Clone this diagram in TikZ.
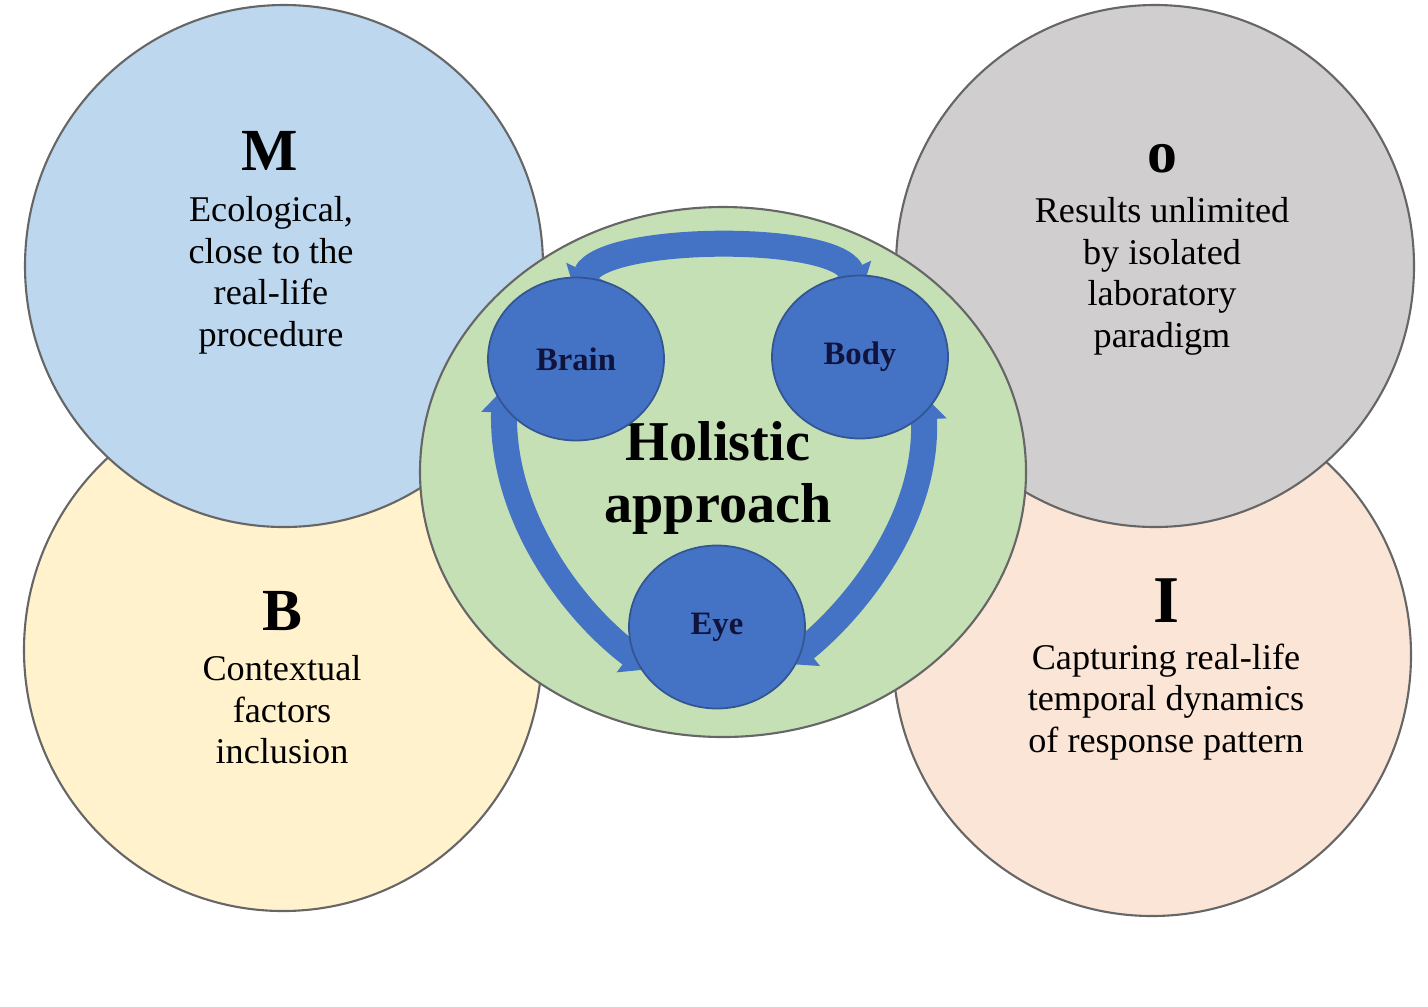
\documentclass[tikz,border=0pt]{standalone}
\usepackage{fontspec}
\setmainfont{Liberation Serif}
\usetikzlibrary{arrows.meta,shapes.geometric}
\pgfdeclarelayer{bg}
\pgfdeclarelayer{arr}
\pgfsetlayers{bg,arr,main}
\definecolor{mblue}{HTML}{BDD7EE}
\definecolor{byellow}{HTML}{FFF2CC}
\definecolor{ogray}{HTML}{D0CECE}
\definecolor{ipink}{HTML}{FBE5D6}
\definecolor{hgreen}{HTML}{C5E0B4}
\definecolor{dblue}{HTML}{4472C4}
\definecolor{navy}{HTML}{10143C}
\begin{document}
\begin{tikzpicture}[x=0.1mm, y=-0.1mm] % координаты в пикселях
\tikzstyle{mybig} = [ellipse, draw=black!60, line width=0.6pt, inner sep=0pt, minimum width=5.18cm, minimum height=5.22cm] % big circle style
\tikzstyle{mysmall} = [ellipse, draw=dblue!75!black, fill=dblue, line width=0.5pt, inner sep=0pt, minimum width=1.76cm, minimum height=1.63cm, text=navy, font=\bfseries\fontsize{9.3}{11}\selectfont] % Brain, Body, Eye
\tikzstyle{myletter} = [anchor=base, inner sep=0pt, font=\bfseries\fontsize{17}{20}\selectfont] % буква
\tikzstyle{mytext} = [anchor=north, inner sep=0pt, align=center, font=\fontsize{10.3}{11.8}\selectfont] % текст в круге
\tikzstyle{myarrow} = [draw=dblue, line width=0.26cm, {Triangle[length=0.25cm,width=0.44cm]}-{Triangle[length=0.25cm,width=0.44cm]}, shorten <=-0.2cm, shorten >=-0.2cm] % толстая стрелка

\useasboundingbox (0,0) rectangle (1428,1006);

\begin{pgfonlayer}{bg} % большие круги, M над B, O над I
\node[mybig, fill=byellow] (bcirc) at (283,650) {};
\node[mybig, fill=mblue] (mcirc) at (284,266) {};
\node[mybig, fill=ipink] (icirc) at (1152,655) {};
\node[mybig, fill=ogray] (ocirc) at (1155,266) {};
\node[ellipse, draw=black!60, fill=hgreen, line width=0.6pt, minimum width=6.06cm, minimum height=5.30cm] (hol) at (723,472) {};
\end{pgfonlayer}

% подписи больших кругов
\node[myletter] (mlet) at (270,170) {M};
\node[mytext] (mtxt) at (271,196) {Ecological,\\close to the\\real-life\\procedure};
\node[myletter] (olet) at (1162,172) {o};
\node[mytext] (otxt) at (1162,197) {Results unlimited\\by isolated\\laboratory\\paradigm};
\node[myletter] (blet) at (282,630) {B};
\node[mytext] (btxt) at (282,655) {Contextual\\factors\\inclusion};
\node[myletter, font=\bfseries\fontsize{19}{22}\selectfont] (ilet) at (1166,622) {I};
\node[mytext] (itxt) at (1166,643) {Capturing real-life\\temporal dynamics\\of response pattern};

\node[align=center, inner sep=0pt, font=\bfseries\fontsize{16}{17.5}\selectfont] (holtxt) at (718,478) {Holistic\\approach};

% малые круги
\node[mysmall] (brain) at (576,359) {Brain};
\node[mysmall] (body) at (860,357) {Body};
\node[mysmall] (eye) at (717,627) {Eye};

\begin{pgfonlayer}{arr} % стрелки под малыми кругами
\draw[myarrow] (brain.84) .. controls +(20,-42) and +(-20,-42) .. (body.95);
\draw[myarrow] (brain.214) .. controls +(-3,110) and +(-60,-45) .. (eye.200);
\draw[myarrow] (body.318) .. controls +(5,106) and +(50,-40) .. (eye.344);
\end{pgfonlayer}
\end{tikzpicture}
\end{document}
